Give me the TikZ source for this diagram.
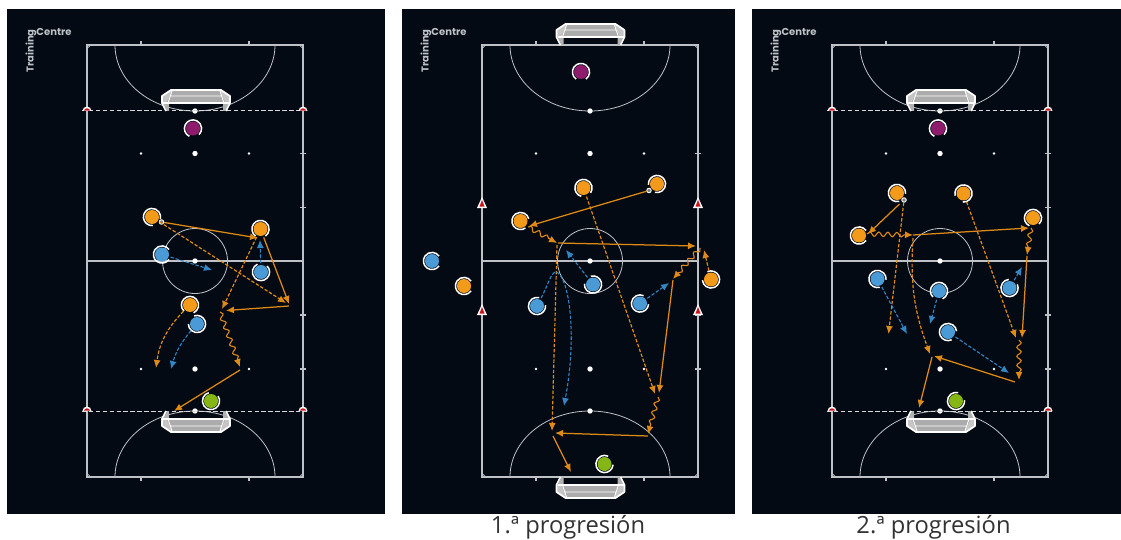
\documentclass[tikz,border=0pt]{standalone}
\usepackage{fontspec}
\setsansfont{Poppins}
\newfontfamily\capfont{Open Sans}
\usetikzlibrary{arrows.meta,decorations.pathmorphing,calc}
\definecolor{pitchBg}{RGB}{4,10,20}
\definecolor{pitchLine}{RGB}{190,193,198}
\definecolor{mkOrange}{RGB}{243,154,27}
\definecolor{mkBlue}{RGB}{74,154,214}
\definecolor{mkPurple}{RGB}{142,27,107}
\definecolor{mkGreen}{RGB}{134,181,22}
\definecolor{runOrange}{RGB}{222,138,20}
\definecolor{runBlue}{RGB}{50,134,196}
\definecolor{coneRed}{RGB}{200,20,30}
\tikzset{
  pitchline/.style={draw=pitchLine,line width=1.1pt},
  arcline/.style={draw=pitchLine,line width=0.8pt},
  goalline/.style={draw=white!85!black,line width=1pt,dash pattern=on 4.5pt off 2.4pt},
  logotext/.style={text=pitchLine,font=\sffamily\bfseries\fontsize{10}{11}\selectfont,inner sep=0pt},
  player/.style={circle,minimum size=14pt,inner sep=0pt,outer sep=2pt},
  ring/.style={draw=white,line width=1.5pt},
  ballnode/.style={circle,draw=white,fill=gray,line width=0.9pt,minimum size=4.5pt,inner sep=0pt},
  passarrow/.style={-{Latex[length=8pt,width=7pt]},runOrange,line width=1.25pt},
  runarrow/.style={-{Latex[length=8pt,width=7pt]},runOrange,line width=1.2pt,dash pattern=on 3.4pt off 1.8pt},
  bluearrow/.style={-{Latex[length=8pt,width=7pt]},runBlue,line width=1.1pt,dash pattern=on 3.4pt off 1.8pt},
  dribble/.style={-{Latex[length=8pt,width=7pt]},runOrange,line width=1.1pt,decorate,
    decoration={snake,segment length=9pt,amplitude=2.2pt,post length=7pt}},
  caption/.style={text=black!80,font=\capfont\fontsize{23.7}{26}\selectfont,inner sep=0pt},
  goal/.pic={
    \fill[gray!45] (-34,-15) -- (-25,-21) -- (25,-21) -- (34,-15) -- (34,-8) -- (-34,-8) -- cycle;
    \fill[gray!65] (-24,-20) -- (24,-20) -- (29,-9) -- (-29,-9) -- cycle;
    \fill[gray!60] (-33,-8) -- (-29,0) -- (-27,0) -- (-27,-8) -- cycle;
    \fill[gray!60] (33,-8) -- (29,0) -- (27,0) -- (27,-8) -- cycle;
    \draw[white,line width=0.9pt] (-26,-15) -- (26,-15) (-24,-20) -- (-28,-8) (24,-20) -- (28,-8);
    \draw[white,line width=1.7pt,line join=round] (-30,0) -- (-34,-8) -- (-34,-15) -- (-25,-21)
      -- (25,-21) -- (34,-15) -- (34,-8) -- (30,0);
    \draw[white,line width=1.7pt] (-33,-8) -- (33,-8);
  }
}
% pitch markings, #1 = prefix of the names, #2 = centre x
\newcommand{\drawpitch}[2]{
  \begin{scope}[shift={(#2,0)}]
    \draw[pitchline] (-108,45) rectangle (108,477) (-108,261) -- (108,261);
    \draw[arcline] (0,261) circle[radius=32.5];
    \draw[arcline] (-80,45) arc[start angle=180,end angle=0,x radius=80,y radius=66];
    \draw[arcline] (-80,477) arc[start angle=180,end angle=360,x radius=80,y radius=66];
    \draw[arcline] (-108,48) to[bend right=30] (-105,45) (108,48) to[bend left=30] (105,45)
      (-108,474) to[bend left=30] (-105,477) (108,474) to[bend right=30] (105,477);
    \foreach \px in {-54,54} {
      \draw[pitchline] (\px,41) -- (\px,45) (\px,477) -- (\px,481);
      \fill[white] (\px,153.5) circle[radius=1.4] (\px,369) circle[radius=1.4];
    }
    \foreach \py in {153.5,207.5,315,369}
      \draw[pitchline] (105,\py) -- (111,\py);
    \foreach \py in {111,153.5,261,369,411}
      \fill[white] (0,\py) circle[radius=2.7];
    \node[logotext,rotate=90] (#1-training) at (-164,51) {Training};
    \node[logotext] (#1-centre) at (-141,32) {Centre};
  \end{scope}
}
% dashed goal line and its two domes, #1 = centre x, #2 = y
\newcommand{\domeline}[2]{
  \begin{scope}[shift={(#1,#2)}]
    \draw[goalline] (-113,0) -- (113,0);
    \foreach \sx in {-108,108} {
      \fill[white] (\sx-4.5,0) arc[start angle=180,end angle=360,radius=4.5] -- cycle;
      \fill[coneRed] (\sx-3,-0.3) arc[start angle=180,end angle=360,x radius=3,y radius=2.4] -- cycle;
    }
  \end{scope}
}
% player: name, x, y, colour, direction of the gap in the ring
\newcommand{\player}[5]{
  \node[player,fill=#4] (#1) at (#2,#3) {};
  \draw[ring] (#1.center) ++(#5+35:8.6) arc[start angle=#5+35,delta angle=290,radius=8.6];
}

\begin{document}
\begin{tikzpicture}[x=1pt,y=-1pt]
  \useasboundingbox (0,0) rectangle (1121,540);
  \fill[white] (0,0) rectangle (1121,540);
  \fill[pitchBg] (7,9) rectangle (385,514);
  \fill[pitchBg] (402,9) rectangle (735,514);
  \fill[pitchBg] (752,9) rectangle (1121,514);

  % first pitch
  \drawpitch{a}{195}
  \domeline{195}{111}
  \domeline{195}{411}
  \pic at (196,111) {goal};
  \pic[yscale=-1] at (196,411) {goal};
  \player{a1}{152}{217}{mkOrange}{50}
  \player{a2}{260.5}{229}{mkOrange}{90}
  \player{a3}{162}{254.5}{mkBlue}{0}
  \player{a4}{261}{272}{mkBlue}{280}
  \player{a5}{190}{305}{mkOrange}{100}
  \player{a6}{197}{324}{mkBlue}{215}
  \player{a7}{193}{128.5}{mkPurple}{80}
  \player{a8}{211}{401}{mkGreen}{290}
  \node[ballnode] (aball) at (161.5,222) {};
  \coordinate (ac1) at (258,238);
  \coordinate (ac2) at (286,303);
  \coordinate (ac3) at (289,304);
  \coordinate (ac4) at (222,309);
  \coordinate (ac5) at (260,240);
  \coordinate (ac6) at (212,270);
  \coordinate (ac7) at (289,306);
  \coordinate (ac8) at (226,310.5);
  \coordinate (ac9) at (220,312);
  \coordinate (ac10) at (240,367);
  \coordinate (ac11) at (240,370);
  \coordinate (ac12) at (174,411);
  \coordinate (ac13) at (156,368);
  \coordinate (ac14) at (171,369);
  \draw[passarrow] (aball) -- (ac1);
  \draw[runarrow] (a1) -- (ac2);
  \draw[passarrow] (a2) -- (ac3);
  \draw[runarrow] (a2) -- (ac4);
  \draw[bluearrow] (a4) -- (ac5);
  \draw[bluearrow] (a3) -- (ac6);
  \draw[passarrow] (ac7) -- (ac8);
  \draw[dribble] (ac9) -- (ac10);
  \draw[passarrow] (ac11) -- (ac12);
  \draw[runarrow] (a5) to[bend right=18] (ac13);
  \draw[bluearrow] (a6) to[bend right=12] (ac14);

  % second pitch
  \drawpitch{b}{590}
  \pic at (590.5,45) {goal};
  \pic[yscale=-1] at (590.5,477) {goal};
  \foreach \cx in {482,698} \foreach \cy in {208,315} {
    \fill[white] (\cx-5,\cy) -- (\cx,\cy-11) -- (\cx+5,\cy) -- cycle;
    \fill[coneRed] (\cx-2.5,\cy-1.5) -- (\cx,\cy-8) -- (\cx+2.5,\cy-1.5) -- cycle;
  }
  \player{b1}{581}{72}{mkPurple}{90}
  \player{b2}{583.5}{188}{mkOrange}{70}
  \player{b3}{657}{184}{mkOrange}{140}
  \player{b4}{520.5}{221}{mkOrange}{20}
  \player{b5}{432}{261}{mkBlue}{0}
  \player{b6}{464}{286}{mkOrange}{0}
  \player{b7}{537}{306}{mkBlue}{320}
  \player{b8}{593}{284.5}{mkBlue}{220}
  \player{b9}{640}{303.5}{mkBlue}{330}
  \player{b10}{711}{279.5}{mkOrange}{210}
  \player{b11}{604.5}{464}{mkGreen}{330}
  \node[ballnode] (bball) at (649,190.5) {};
  \coordinate (bc1) at (529,226);
  \coordinate (bc2) at (528,227);
  \coordinate (bc3) at (557,243);
  \coordinate (bc4) at (558,243);
  \coordinate (bc5) at (696,246);
  \coordinate (bc6) at (700,248);
  \coordinate (bc7) at (673,279);
  \coordinate (bc8) at (704,250);
  \coordinate (bc9) at (673,280);
  \coordinate (bc10) at (659,393);
  \coordinate (bc11) at (655,394);
  \coordinate (bc12) at (658,397);
  \coordinate (bc13) at (648,434);
  \coordinate (bc14) at (648,436);
  \coordinate (bc15) at (555,433);
  \coordinate (bc16) at (557,245);
  \coordinate (bc17) at (552,431);
  \coordinate (bc18) at (553,436);
  \coordinate (bc19) at (571,472);
  \coordinate (bc20) at (566,250);
  \coordinate (bc21) at (556,272);
  \coordinate (bc22) at (564,406);
  \coordinate (bc23) at (669,283);
  \draw[passarrow] (bball) -- (bc1);
  \draw[dribble] (bc2) -- (bc3);
  \draw[passarrow] (bc4) -- (bc5);
  \draw[dribble] (bc6) -- (bc7);
  \draw[runarrow] (b10) -- (bc8);
  \draw[passarrow] (bc9) -- (bc10);
  \draw[runarrow] (b2) -- (bc11);
  \draw[dribble] (bc12) -- (bc13);
  \draw[passarrow] (bc14) -- (bc15);
  \draw[runarrow] (bc16) -- (bc17);
  \draw[passarrow] (bc18) -- (bc19);
  \draw[bluearrow] (b8) -- (bc20);
  \draw[bluearrow] (b7) .. controls (548,285) and (551,272) .. (bc21)
    .. controls (568,275) and (578,330) .. (bc22);
  \draw[bluearrow] (b9) -- (bc23);

  % third pitch
  \drawpitch{c}{940}
  \domeline{940}{111}
  \domeline{940}{411}
  \pic at (941,111) {goal};
  \pic[yscale=-1] at (941,411) {goal};
  \player{c1}{938}{128.5}{mkPurple}{80}
  \player{c2}{897}{193}{mkOrange}{40}
  \player{c3}{963.5}{193.5}{mkOrange}{130}
  \player{c4}{1033}{218}{mkOrange}{80}
  \player{c5}{859}{235.5}{mkOrange}{0}
  \player{c6}{877.5}{279}{mkBlue}{40}
  \player{c7}{939}{291}{mkBlue}{100}
  \player{c8}{1009.5}{288}{mkBlue}{300}
  \player{c9}{948}{332}{mkBlue}{30}
  \player{c10}{956}{401}{mkGreen}{320}
  \node[ballnode] (cball) at (904,200) {};
  \coordinate (cc1) at (899.5,204);
  \coordinate (cc2) at (868,234);
  \coordinate (cc3) at (867,234);
  \coordinate (cc4) at (913,235);
  \coordinate (cc5) at (1029,228);
  \coordinate (cc6) at (1031,228);
  \coordinate (cc7) at (1027,255);
  \coordinate (cc8) at (1027,256);
  \coordinate (cc9) at (1022,338);
  \coordinate (cc10) at (888.5,334);
  \coordinate (cc11) at (1016,338);
  \coordinate (cc12) at (913,238);
  \coordinate (cc13) at (930,354);
  \coordinate (cc14) at (1019,340);
  \coordinate (cc15) at (1019,380);
  \coordinate (cc16) at (1015,382);
  \coordinate (cc17) at (934,356);
  \coordinate (cc18) at (932,357);
  \coordinate (cc19) at (919,408);
  \coordinate (cc20) at (907,334);
  \coordinate (cc21) at (930,324);
  \coordinate (cc22) at (1022,267);
  \coordinate (cc23) at (1009,373);
  \draw[passarrow] (cc1) -- (cc2);
  \draw[dribble] (cc3) -- (cc4);
  \draw[passarrow] (cc4) -- (cc5);
  \draw[dribble] (cc6) -- (cc7);
  \draw[passarrow] (cc8) -- (cc9);
  \draw[runarrow] (cball) -- (cc10);
  \draw[runarrow] (c3) -- (cc11);
  \draw[runarrow] (cc12) to[bend right=12] (cc13);
  \draw[dribble] (cc14) -- (cc15);
  \draw[passarrow] (cc16) -- (cc17);
  \draw[passarrow] (cc18) -- (cc19);
  \draw[bluearrow] (c6) -- (cc20);
  \draw[bluearrow] (c7) -- (cc21);
  \draw[bluearrow] (c8) -- (cc22);
  \draw[bluearrow] (c9) -- (cc23);

  \node[caption] (cap1) at (568,527) {1.ª progresión};
  \node[caption] (cap2) at (933.5,527) {2.ª progresión};
\end{tikzpicture}
\end{document}
